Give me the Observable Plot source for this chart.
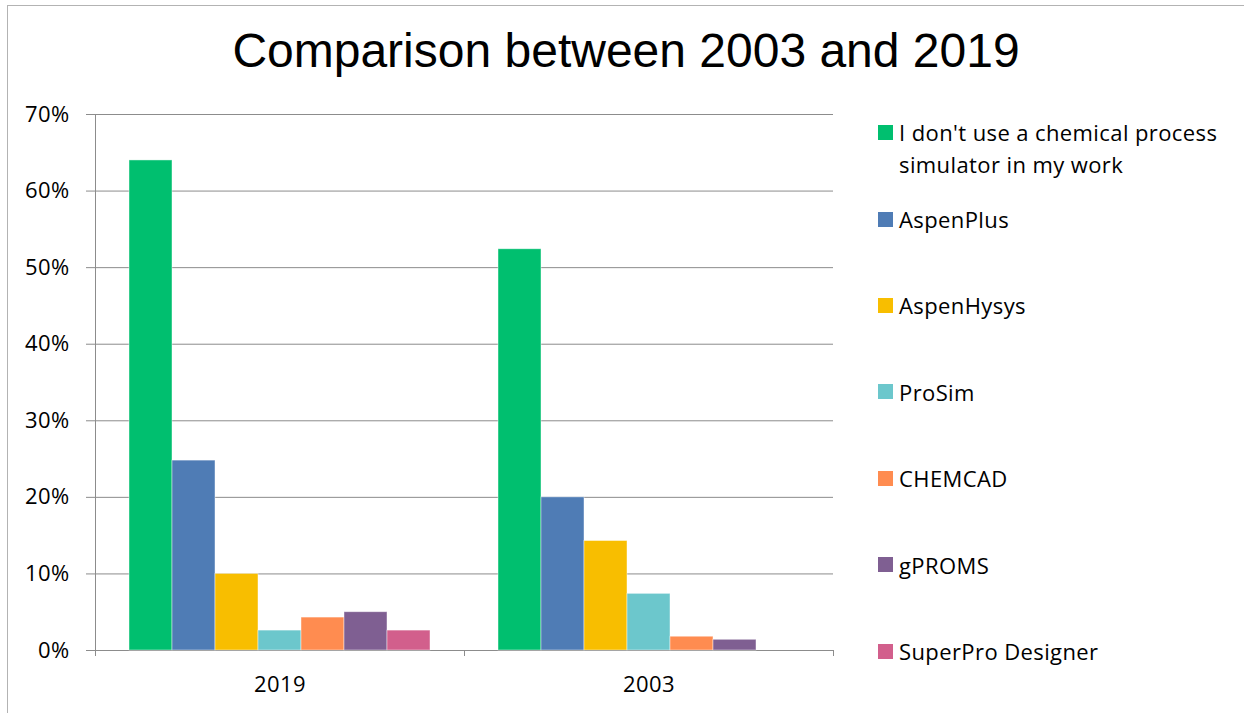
<!DOCTYPE html>
<html>
<head>
<meta charset="utf-8">
<script src="https://cdn.jsdelivr.net/npm/d3@7"></script>
<script src="https://cdn.jsdelivr.net/npm/@observablehq/plot@0.6"></script>
<style>
  html, body { margin: 0; padding: 0; background: #fff; }
  #wrap { position: relative; width: 1244px; height: 713px; overflow: hidden; background: #fff; font-family: "Open Sans", Lato, sans-serif; color: #000; }
  #border { position: absolute; left: 7px; top: 5px; width: 1300px; height: 800px; border-top: 1px solid #b3b3b3; border-left: 1px solid #b3b3b3; }
  #chart { position: absolute; left: 0; top: 0; }
  #title { position: absolute; left: 0; width: 1252px; top: 18px; text-align: center; font-family: "Liberation Sans", Arial, sans-serif; font-size: 48px; line-height: 66px; color: #000; white-space: nowrap; }
  .item { position: absolute; left: 878px; width: 366px; font-size: 22px; letter-spacing: 0.4px; line-height: 32px; }
  .sw { position: absolute; left: 0; top: 8.5px; width: 15px; height: 15px; }
  .lbl { position: absolute; left: 21px; width: 344px; }
</style>
</head>
<body>
<div id="wrap">
  <div id="chart"></div>
  <div id="border"></div>
  <div id="title">Comparison between 2003 and 2019</div>
  <div id="legend"></div>
</div>
<script>
const years = ["2019", "2003"];
const software = [
  "I don't use a chemical process simulator in my work",
  "AspenPlus",
  "AspenHysys",
  "ProSim",
  "CHEMCAD",
  "gPROMS",
  "SuperPro Designer"
];
const values2019 = [0.640, 0.248, 0.100, 0.026, 0.043, 0.050, 0.026];
const values2003 = [0.524, 0.200, 0.143, 0.074, 0.018, 0.014, 0.000];
const colors = ["#00BF6F", "#4F7CB5", "#F8BE00", "#6CC7CC", "#FF8C50", "#7F5F92", "#D25F8C"];
const yTicks = [0, 0.1, 0.2, 0.3, 0.4, 0.5, 0.6, 0.7];

const data = [];
software.forEach((s, i) => {
  data.push({year: "2019", software: s, value: values2019[i]});
  data.push({year: "2003", software: s, value: values2003[i]});
});

const gridColor = "#8c8c8c";
const fontStack = "'Open Sans', Lato, sans-serif";

const plot = Plot.plot({
  width: 1244,
  height: 713,
  marginLeft: 95,
  marginRight: 411,
  marginTop: 114,
  marginBottom: 63,
  style: {background: "transparent", fontFamily: fontStack, color: "#000", letterSpacing: "0.4px"},
  fx: {domain: years, padding: 0, axis: null, label: null},
  x: {domain: software, paddingInner: 0, paddingOuter: 0.75, axis: null, label: null},
  y: {domain: [0, 0.7], axis: null, label: null},
  color: {domain: software, range: colors},
  marks: [
    Plot.gridY(yTicks, {stroke: gridColor, strokeOpacity: 1, strokeWidth: 1}),
    Plot.barY(data, {fx: "year", x: "software", y: "value", fill: "software", stroke: "#ffffff", strokeOpacity: 0.55, strokeWidth: 0.8, inset: 0}),
    Plot.axisY(yTicks, {
      label: null,
      tickSize: 9, tickPadding: 17, stroke: gridColor, strokeOpacity: 1,
      tickFormat: d => Math.round(d * 100) + "%", fontSize: 22, fill: "#000"
    }),
    Plot.axisFx({anchor: "bottom", label: null, tickSize: 0, tickPadding: 26, fontSize: 22, fill: "#000"})
  ]
});

document.getElementById("chart").appendChild(plot);

// axis line and category separator ticks, from Plot's own scales
const svg = d3.select(plot);
const fx = plot.scale("fx");
const ys = plot.scale("y");
const y0 = ys.apply(0), yTop = ys.apply(0.7);
const edges = [];
years.forEach(yr => { edges.push(fx.apply(yr)); edges.push(fx.apply(yr) + fx.bandwidth); });
const uniq = Array.from(new Set(edges.map(e => Math.round(e * 10) / 10)));
const g = svg.append("g").attr("stroke", gridColor).attr("stroke-width", 1);
g.append("line").attr("x1", uniq[0] + 0.5).attr("x2", uniq[0] + 0.5).attr("y1", yTop).attr("y2", y0 + 6);
uniq.forEach(x => {
  g.append("line").attr("x1", x + 0.5).attr("x2", x + 0.5).attr("y1", y0).attr("y2", y0 + 6);
});

// legend
const legend = document.getElementById("legend");
software.forEach((s, i) => {
  const top = i === 0 ? 116 : 203 + (i - 1) * 86.4;
  const item = document.createElement("div");
  item.className = "item";
  item.style.top = top + "px";
  const sw = document.createElement("div");
  sw.className = "sw";
  sw.style.background = colors[i];
  const lbl = document.createElement("div");
  lbl.className = "lbl";
  lbl.textContent = s;
  item.appendChild(sw);
  item.appendChild(lbl);
  legend.appendChild(item);
});
</script>
</body>
</html>
